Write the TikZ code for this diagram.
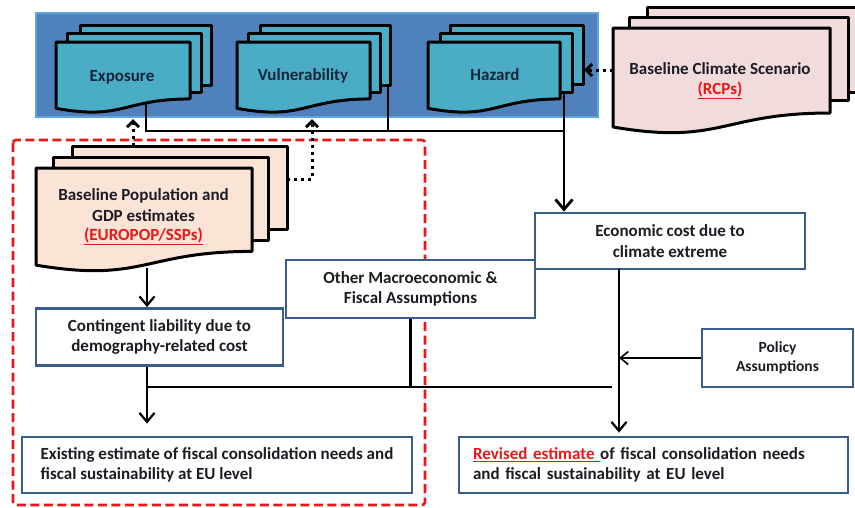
\documentclass[tikz,border=0pt]{standalone}
\usepackage{fontspec}
\setmainfont{Carlito}
\usetikzlibrary{arrows.meta,calc}
\definecolor{bgblue}{RGB}{79,129,189}
\definecolor{bgedge}{RGB}{96,165,215}
\definecolor{teal}{RGB}{75,172,198}
\definecolor{pinkdoc}{RGB}{242,220,219}
\definecolor{peach}{RGB}{251,228,213}
\definecolor{boxblue}{RGB}{56,93,138}
\definecolor{redline}{RGB}{232,24,24}
\definecolor{txt}{RGB}{28,28,38}
\definecolor{navytxt}{RGB}{22,36,60}
\newcommand\docfront[5]{%
  \pgfmathsetmacro\dR{#2+0.802*#4}%
  \pgfmathsetmacro\dL{#2+0.934*#4}%
  \pgfmathsetmacro\dC{#2+1.1075*#4}%
  \pgfmathsetmacro\dM{(#1+#3)/2}%
  \filldraw[docline,fill=#5] (#1,#2) -- (#3,#2) -- (#3,\dR) .. controls (\dM,\dR) and (\dM,\dC) .. (#1,\dL) -- cycle;}
\newcommand\docback[5]{\filldraw[docline,fill=#5] (#1,#2) rectangle (#3,#4);}
\begin{document}
\begin{tikzpicture}[x=1pt,y=-1pt,
  docline/.style={draw=black,line width=3pt,line join=round},
  mainfont/.style={font=\fontsize{17}{20.5}\selectfont\bfseries},
  doctext/.style={mainfont,text=navytxt,align=center},
  boxnode/.style={draw=boxblue,line width=2.8pt,fill=white,mainfont,text=txt,align=center},
  conn/.style={draw=black,line width=2.8pt},
  connmid/.style={draw=black,line width=2.2pt},
  connthin/.style={draw=black,line width=1.6pt},
  dotconn/.style={draw=black,line width=3pt,dash pattern=on 3pt off 4pt},
  bighead/.style={-{Straight Barb[length=10pt,width=17pt,line width=2.8pt]}},
  midhead/.style={-{Straight Barb[length=9pt,width=15pt,line width=2.2pt]}},
  thinhead/.style={-{Straight Barb[length=8pt,width=13pt,line width=1.6pt]}},
  dothead/.style={-{Straight Barb[length=6pt,width=12pt,line width=3pt]}}]
\useasboundingbox (0,0) rectangle (855,507);
\clip (0,0) rectangle (855,507);
% blue background
\filldraw[fill=bgblue,draw=bgedge,line width=2pt] (36,13) rectangle (598,117);
% connector coordinates from top documents
\coordinate (expoout) at (146,96);
\coordinate (vulout) at (388,80);
\coordinate (hazout) at (564,88);
\coordinate (jleft) at (146,131);
\coordinate (jright) at (564,131);
\draw[conn] (expoout) -- (jleft) -- (jright);
\draw[conn] (vulout) -- (vulout |- jleft);
\draw[conn] (hazout) -- (jright);
% Exposure stack
\docback{80}{25}{211}{85}{teal}
\docback{67}{33}{201}{92}{teal}
\docfront{56}{42}{190}{71}{teal}
\node[doctext] (expo) at (122,77) {Exposure};
% Vulnerability stack
\docback{260}{25}{390}{85}{teal}
\docback{248}{33}{380}{92}{teal}
\docfront{237}{42}{370}{71}{teal}
\node[doctext] (vuln) at (303,76) {Vulnerability};
% Hazard stack
\docback{450}{25}{583}{84}{teal}
\docback{440}{33}{572}{92}{teal}
\docfront{428}{42}{560}{71}{teal}
\node[doctext] (haz) at (495,75) {Hazard};
% Climate stack
\docback{647}{7}{866}{92}{pinkdoc}
\docback{629}{17}{848}{100}{pinkdoc}
\docfront{613}{28}{830}{106}{pinkdoc}
\node[doctext,text=txt] (clim) at (720,81) {Baseline Climate Scenario\\[-1pt]{\color{redline}\underline{(RCPs)}}};
% Population stack
\docback{72}{146}{287}{229}{peach}
\docback{53}{157}{268}{240}{peach}
\docfront{36}{168}{252}{104}{peach}
\node[doctext,text=txt] (pop) at (143.5,217) {Baseline Population and\\GDP estimates\\[-1pt]{\color{redline}\underline{(EUROPOP/SSPs)}}};
% red dashed frame
\draw[redline,line width=2.6pt,dash pattern=on 9pt off 4.5pt,rounded corners=3pt] (13,140) rectangle (425,505);
% boxes
\node[boxnode,minimum width=270pt,minimum height=56pt] (econ) at (670,241) {Economic cost due to\\climate extreme};
\node[boxnode,minimum width=249pt,minimum height=58pt] (macro) at (410.5,289) {Other Macroeconomic \&\\Fiscal Assumptions};
\node[boxnode,minimum width=247pt,minimum height=57pt] (cont) at (159.5,337) {Contingent liability due to\\demography-related cost};
\node[boxnode,minimum width=151pt,minimum height=58pt,font=\fontsize{15.5}{19.5}\selectfont\bfseries] (policy) at (777.5,358) {Policy\\Assumptions};
\node[boxnode,minimum width=390pt,minimum height=56pt,align=left] (exist) at (217,465) {Existing estimate of fiscal consolidation needs and\\fiscal sustainability at EU level};
\node[boxnode,minimum width=389pt,minimum height=56pt,text width=361pt,inner xsep=14pt,align=left] (revised) at (653.5,465) {{\color{redline}\underline{Revised estimate\ }}of fiscal consolidation needs\\and fiscal sustainability at EU level};
% arrow into economic cost
\draw[conn,bighead] (jright) -- (jright |- econ.north);
% dotted arrows
\coordinate (popout) at (133,146);
\coordinate (expoin) at (133,119);
\draw[dotconn,dothead] (popout) -- (expoin);
\coordinate (popright) at (287,179);
\coordinate (vulin) at (312,119);
\draw[dotconn,dothead] (popright) -| (vulin);
\coordinate (climout) at (613,70);
\coordinate (hazin) at (584,70);
\draw[dotconn,dothead] (climout) -- (hazin);
% population -> contingent
\coordinate (popbottom) at (147,268);
\draw[connmid,midhead] (popbottom) -- (popbottom |- cont.north);
% contingent / macro -> existing
\coordinate (merge) at (147,387);
\draw[connmid,midhead,shorten >=12pt] (popbottom |- cont.south) -- (popbottom |- exist.north);
\draw[conn] (macro.south) |- (merge);
\coordinate (thinend) at (612,387);
\draw[connthin] (macro.south |- merge) -- (thinend);
% economic -> revised
\coordinate (econout) at (619,269);
\draw[connmid,midhead,shorten >=3pt] (econout) -- (econout |- revised.north);
\draw[connthin,thinhead] (policy.west) -- (econout |- policy.west);
\end{tikzpicture}
\end{document}
